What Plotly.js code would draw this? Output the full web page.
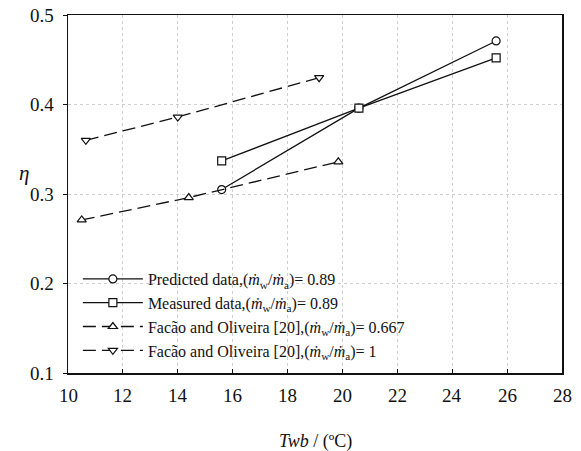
<!DOCTYPE html>
<html><head><meta charset="utf-8">
<script src="https://cdn.plot.ly/plotly-3.0.1.min.js"></script>
<style>body{margin:0;background:#fff}</style>
</head><body><div id="c" style="width:581px;height:451px"></div>
<script>
const predX = [15.6, 20.6, 25.6];
const predY = [0.305, 0.396, 0.471];
const measX = [15.6, 20.6, 25.6];
const measY = [0.337, 0.396, 0.452];
const f667X = [10.5, 14.4, 19.85];
const f667Y = [0.271, 0.296, 0.336];
const f1X = [10.65, 14.0, 19.15];
const f1Y = [0.360, 0.386, 0.430];
const xTickVals = [10, 12, 14, 16, 18, 20, 22, 24, 26, 28];
const xTickText = ['10', '12', '14', '16', '18', '20', '22', '24', '26', '28'];
const yTickVals = [0.1, 0.2, 0.3, 0.4, 0.5];
const yTickText = ['0.1', '0.2', '0.3', '0.4', '0.5'];
const names = [
  'Predicted data,(<i>ṁ</i><sub>w</sub>/<i>ṁ</i><sub>a</sub>)= 0.89',
  'Measured data,(<i>ṁ</i><sub>w</sub>/<i>ṁ</i><sub>a</sub>)= 0.89',
  'Facão and Oliveira [20],(<i>ṁ</i><sub>w</sub>/<i>ṁ</i><sub>a</sub>)= 0.667',
  'Facão and Oliveira [20],(<i>ṁ</i><sub>w</sub>/<i>ṁ</i><sub>a</sub>)= 1'
];
const xTitle = '<i>Twb</i> / (ºC)';
const yTitle = '<i>η</i>';
function tr(x, y, name, sym, dash) {
  return {x: x, y: y, name: name, mode: 'lines+markers', type: 'scatter',
    line: {color: '#111', width: 1.3, dash: dash},
    marker: {symbol: sym, size: 8, color: '#fff', line: {color: '#111', width: 1.2}}};
}
const data = [
  tr(predX, predY, names[0], 'circle', 'solid'),
  tr(measX, measY, names[1], 'square', 'solid'),
  tr(f667X, f667Y, names[2], 'triangle-up', '13px,6px'),
  tr(f1X, f1Y, names[3], 'triangle-down', '13px,6px')
];
const FF = 'Liberation Serif';
const tickFont = {family: FF, color: '#111', size: 19};
const annotations = [];
xTickVals.forEach((v, i) => annotations.push({
  xref: 'x', yref: 'paper', x: v, y: 0, text: xTickText[i], showarrow: false,
  xanchor: 'center', yanchor: 'top', yshift: -10, font: tickFont}));
yTickVals.forEach((v, i) => annotations.push({
  xref: 'paper', yref: 'y', x: 0, y: v, text: yTickText[i], showarrow: false,
  xanchor: 'right', yanchor: 'middle', xshift: -12, font: tickFont}));
annotations.push({xref: 'paper', yref: 'paper', x: 0.5, y: 0, yshift: -56, yanchor: 'top',
  text: xTitle, showarrow: false, font: {family: FF, color: '#111', size: 18}});
annotations.push({xref: 'paper', yref: 'paper', x: 0, y: 0.56, xshift: -44, xanchor: 'center', yanchor: 'middle',
  text: yTitle, showarrow: false, font: {family: FF, color: '#111', size: 21}});
const layout = {
  width: 581, height: 451,
  margin: {l: 68, r: 19, t: 15, b: 78},
  font: {family: FF, color: '#111', size: 16},
  showlegend: true,
  legend: {x: 0.02, y: 0.31, xanchor: 'left', yanchor: 'top', bgcolor: 'rgba(0,0,0,0)',
    font: {family: FF, color: '#111', size: 16}, itemwidth: 60},
  annotations: annotations,
  xaxis: {range: [10, 28], tickmode: 'array', tickvals: xTickVals, showticklabels: false,
    showgrid: true, gridcolor: '#cfcfcf', griddash: 'dot', gridwidth: 1,
    showline: true, linecolor: '#111', linewidth: 1.5, mirror: true, ticks: 'inside', ticklen: 4, tickcolor: '#111',
    zeroline: false},
  yaxis: {range: [0.1, 0.5], tickmode: 'array', tickvals: yTickVals, showticklabels: false,
    showgrid: true, gridcolor: '#cfcfcf', griddash: 'dot', gridwidth: 1,
    showline: true, linecolor: '#111', linewidth: 1.5, mirror: true, ticks: 'outside', ticklen: 4, tickcolor: '#111',
    zeroline: false}
};
Plotly.newPlot('c', data, layout, {displayModeBar: false, staticPlot: true});
</script></body></html>
